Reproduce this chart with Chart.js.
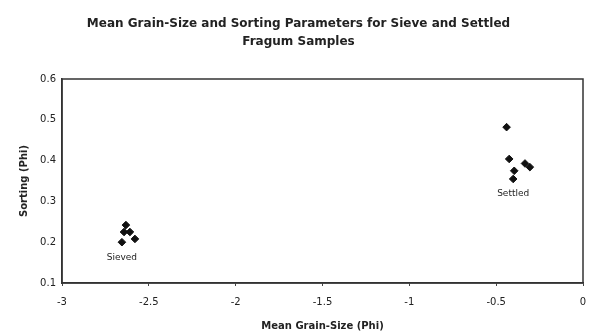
<!DOCTYPE html>
<html>
<head>
<meta charset="utf-8">
<script src="https://cdn.jsdelivr.net/npm/chart.js@4"></script>
<style>
  html, body { margin: 0; padding: 0; background: #fff; }
  #wrap { width: 598px; height: 336px; }
</style>
</head>
<body>
<div id="wrap"><canvas id="c" width="598" height="336"></canvas></div>
<script>
// Mean grain-size (phi) and sorting (phi) per sample
const sievedMean    = [-2.632, -2.643, -2.609, -2.655, -2.580];
const sievedSorting = [0.242, 0.225, 0.225, 0.200, 0.208];
const settledMean    = [-0.440, -0.425, -0.334, -0.306, -0.396, -0.402];
const settledSorting = [0.482, 0.404, 0.393, 0.384, 0.375, 0.355];
const groupNames = ['Sieved', 'Settled'];
const titleLines = ['Mean Grain-Size and Sorting Parameters for Sieve and Settled', 'Fragum Samples'];
const xTitle = 'Mean Grain-Size (Phi)';
const yTitle = 'Sorting (Phi)';

const toPoints = (xs, ys) => xs.map((x, i) => ({ x, y: ys[i] }));
const INK = '#222';
const FONT = "'DejaVu Sans', sans-serif";

// Frame around the plotting area
const framePlugin = {
  id: 'frame',
  afterDatasetsDraw(chart) {
    const { ctx, chartArea: a } = chart;
    ctx.save();
    ctx.strokeStyle = '#333';
    ctx.lineWidth = 1.5;
    ctx.strokeRect(a.left, a.top, a.right - a.left, a.bottom - a.top);
    ctx.restore();
  }
};

// Group name written under the lowest point of each cluster
const groupLabelPlugin = {
  id: 'groupLabels',
  afterDatasetsDraw(chart) {
    const { ctx, scales } = chart;
    ctx.save();
    ctx.font = "9px " + FONT;
    ctx.fillStyle = INK;
    ctx.textAlign = 'center';
    ctx.textBaseline = 'middle';
    chart.data.datasets.forEach(ds => {
      let low = ds.data[0];
      ds.data.forEach(p => { if (p.y < low.y) low = p; });
      const px = scales.x.getPixelForValue(low.x);
      const py = scales.y.getPixelForValue(low.y);
      ctx.fillText(ds.label, px, py + 15);
    });
    ctx.restore();
  }
};

new Chart(document.getElementById('c'), {
  type: 'scatter',
  data: {
    datasets: [
      { label: groupNames[0], data: toPoints(sievedMean, sievedSorting) },
      { label: groupNames[1], data: toPoints(settledMean, settledSorting) }
    ].map(d => Object.assign(d, {
      pointStyle: 'rectRot',
      pointRadius: 3.8,
      pointBackgroundColor: '#111',
      pointBorderColor: '#111',
      pointBorderWidth: 1
    }))
  },
  options: {
    responsive: false,
    animation: false,
    layout: { padding: { left: 14, right: 15, top: 0, bottom: 0 } },
    plugins: {
      legend: { display: false },
      tooltip: { enabled: false },
      title: {
        display: true,
        text: titleLines,
        color: INK,
        font: { family: FONT, size: 12, weight: 'bold', lineHeight: 1.5 },
        padding: { top: 15, bottom: 28 }
      }
    },
    scales: {
      x: {
        type: 'linear',
        min: -3, max: 0,
        ticks: { stepSize: 0.5, color: INK, font: { family: FONT, size: 10 }, padding: 10,
                 callback: v => String(v) },
        grid: { display: true, drawOnChartArea: false, drawTicks: true, tickLength: 3, color: '#444' },
        border: { display: true, color: '#333', width: 1.5 },
        title: { display: true, text: xTitle, color: INK, font: { family: FONT, size: 10, weight: 'bold' }, padding: { top: 4 } },
        afterFit(s) { s.height = 53; }
      },
      y: {
        type: 'linear',
        min: 0.1, max: 0.6,
        ticks: { stepSize: 0.1, color: INK, font: { family: FONT, size: 10 }, padding: 6,
                 callback: v => v.toFixed(1) },
        grid: { display: false, drawTicks: false },
        border: { display: true, color: '#333', width: 1.5 },
        title: { display: true, text: yTitle, color: INK, font: { family: FONT, size: 10, weight: 'bold' } },
        afterFit(s) { s.width = 48; }
      }
    }
  },
  plugins: [framePlugin, groupLabelPlugin]
});
</script>
</body>
</html>
